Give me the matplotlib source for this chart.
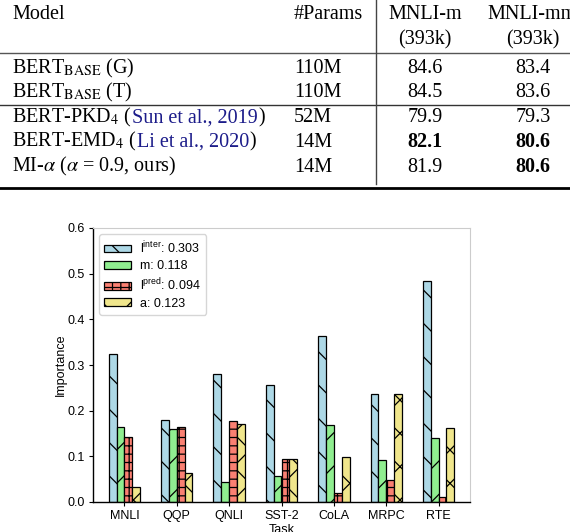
import matplotlib
matplotlib.use("Agg")
import matplotlib.pyplot as plt
import numpy as np

# ---- table data ----
model_names = ["BERT$_{\\mathrm{BASE}}$ (G)", "BERT$_{\\mathrm{BASE}}$ (T)",
               "BERT-PKD$_4$ (", "BERT-EMD$_4$ (", "MI-$\\alpha$ ($\\alpha$ = 0.9, ours)"]
citations = ["", "", "Sun et al., 2019", "Li et al., 2020", ""]
params = ["110M", "110M", "52M", "14M", "14M"]
mnli_m = ["84.6", "84.5", "79.9", "82.1", "81.9"]
mnli_mm = ["83.4", "83.6", "79.3", "80.6", "80.6"]
bold_m = [False, False, False, True, False]
bold_mm = [False, False, False, True, True]

# ---- chart data ----
tasks = ["MNLI", "QQP", "QNLI", "SST-2", "CoLA", "MRPC", "RTE"]
l_inter = [0.323, 0.180, 0.281, 0.256, 0.364, 0.237, 0.485]
m_vals = [0.165, 0.160, 0.043, 0.056, 0.169, 0.092, 0.140]
l_pred = [0.143, 0.165, 0.178, 0.094, 0.019, 0.048, 0.010]
a_vals = [0.033, 0.063, 0.171, 0.094, 0.098, 0.237, 0.162]
series_labels = ["l$^{\\mathrm{inter}}$: 0.303", "m: 0.118",
                 "l$^{\\mathrm{pred}}$: 0.094", "a: 0.123"]

plt.rcParams["mathtext.fontset"] = "custom"
plt.rcParams["mathtext.rm"] = "Liberation Sans"
plt.rcParams["mathtext.it"] = "Liberation Sans:italic"
plt.rcParams["hatch.linewidth"] = 0.9

fig = plt.figure(figsize=(5.7, 5.32), dpi=100)

# table drawn on a full-figure axes in pixel units
tab = fig.add_axes([0, 0, 1, 1])
tab.set_xlim(0, 570)
tab.set_ylim(532, 0)
tab.axis("off")

serif = dict(family="Liberation Serif", fontsize=14.5, math_fontfamily="stix")
tab.text(12.5, 19, "Model", va="baseline", **serif)
tab.text(294, 19, "#Params", va="baseline", **serif)
tab.text(425, 19, "MNLI-m", ha="center", va="baseline", **serif)
tab.text(487, 19, "MNLI-mm", ha="left", va="baseline", **serif)
tab.text(425, 44, "(393k)", ha="center", va="baseline", **serif)
tab.text(533, 44, "(393k)", ha="center", va="baseline", **serif)

row_base = [73.3, 97.3, 122.3, 146.7, 171.5]
renderer = fig.canvas.get_renderer()
for i in range(5):
    y = row_base[i]
    t = tab.text(12.5, y, model_names[i], va="baseline", **serif)
    if citations[i]:
        bb = t.get_window_extent(renderer)
        x1 = tab.transData.inverted().transform((bb.x1, 0))[0]
        c = tab.text(x1, y, citations[i], va="baseline", color="#1c1c8a", **serif)
        bb = c.get_window_extent(renderer)
        x2 = tab.transData.inverted().transform((bb.x1, 0))[0]
        tab.text(x2, y, ")", va="baseline", **serif)
    tab.text(294, y, params[i], va="baseline", **serif)
    tab.text(425, y, mnli_m[i], ha="center", va="baseline",
             weight="bold" if bold_m[i] else "normal", **serif)
    tab.text(533, y, mnli_mm[i], ha="center", va="baseline",
             weight="bold" if bold_mm[i] else "normal", **serif)

tab.plot([0, 570], [52.7, 52.7], color="#555555", lw=1.0)
tab.plot([0, 570], [105, 105], color="#333333", lw=1.0)
tab.plot([0, 570], [188.3, 188.3], color="black", lw=2.0)
tab.plot([375.7, 375.7], [0, 183.5], color="#444444", lw=1.0)

# ---- bar chart ----
ax = fig.add_axes([93 / 570, 30 / 532, 377 / 570, 274 / 532])
x = np.arange(len(tasks))
w = 0.15
colors = ["lightblue", "lightgreen", "salmon", "khaki"]
hatches = ["\\", "/", "++", "x"]
data = [l_inter, m_vals, l_pred, a_vals]
for k in range(4):
    ax.bar(x + (k - 1.5) * w, data[k], w, color=colors[k], edgecolor="black",
           linewidth=0.9, hatch=hatches[k], label=series_labels[k])

sans = "Liberation Sans"
fs = 9
ax.set_xlim(-0.6, 6.6)
ax.set_ylim(0, 0.6)
ax.set_xticks(x)
ax.set_xticklabels(tasks, family=sans, fontsize=fs)
ax.set_yticks(np.arange(0, 0.61, 0.1))
ax.set_yticklabels(["%.1f" % v for v in np.arange(0, 0.61, 0.1)], family=sans, fontsize=fs)
ax.tick_params(length=3, width=0.8, pad=3)
ax.set_ylabel("Importance", family=sans, fontsize=fs, labelpad=0)
ax.set_xlabel("Task", family=sans, fontsize=fs, labelpad=1)
for s in ["top", "right"]:
    ax.spines[s].set_color("#cccccc")
for s in ["left", "bottom"]:
    ax.spines[s].set_color("black")
    ax.spines[s].set_linewidth(1.0)

leg = ax.legend(loc="upper left", prop=dict(family=sans, size=fs), handlelength=2.1,
                handleheight=0.55, labelspacing=0.35, handletextpad=0.8,
                borderaxespad=0.5, borderpad=0.4, fancybox=True, edgecolor="#cccccc")

fig.savefig("out.png", dpi=100)
